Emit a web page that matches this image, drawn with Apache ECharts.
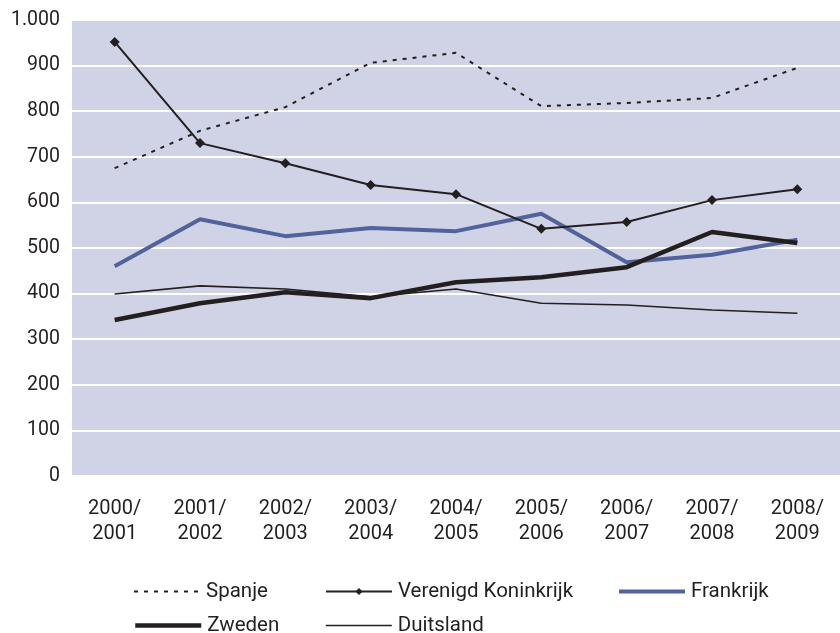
<!DOCTYPE html>
<html>
<head>
<meta charset="utf-8">
<script src="https://cdn.jsdelivr.net/npm/echarts@6/dist/echarts.min.js"></script>
<style>
  html, body { margin: 0; padding: 0; background: #ffffff; }
  #chart { width: 840px; height: 633px; }
</style>
</head>
<body>
<div id="chart"></div>
<script>
// School years on the category axis
const seasons = ['2000/\n2001', '2001/\n2002', '2002/\n2003', '2003/\n2004', '2004/\n2005',
                 '2005/\n2006', '2006/\n2007', '2007/\n2008', '2008/\n2009'];

// Values per country
const spanje = [675, 757, 809, 906, 928, 811, 818, 829, 895];
const verenigdKoninkrijk = [952, 730, 686, 638, 618, 542, 557, 605, 629];
const frankrijk = [460, 563, 526, 544, 537, 575, 469, 485, 518];
const zweden = [342, 379, 403, 390, 425, 436, 458, 535, 511];
const duitsland = [399, 417, 410, 393, 410, 379, 375, 364, 357];

const yTicks = { min: 0, max: 1000, interval: 100 };

const FONT = 'Roboto, "Liberation Sans", sans-serif';
const INK = '#231f20';
const BLUE = '#52629b';

const chart = echarts.init(document.getElementById('chart'), null, { renderer: 'canvas' });

// One legend block per entry so each can sit in its own column
function legendAt(name, left, top, lineWidth, withMarker) {
  return {
    data: [name],
    left: left,
    top: top,
    orient: 'horizontal',
    itemWidth: 66,
    itemHeight: 9,
    itemGap: 0,
    padding: 0,
    lineStyle: { width: lineWidth },
    itemStyle: withMarker ? { color: INK } : { color: 'rgba(0,0,0,0)', borderWidth: 0 },
    textStyle: { fontFamily: FONT, fontSize: 20.5, color: INK, padding: [0, 0, 0, 1] },
    selectedMode: false
  };
}

chart.setOption({
  animation: false,
  backgroundColor: '#ffffff',
  grid: {
    left: 72, right: 0, top: 20, bottom: 157,
    show: true, backgroundColor: '#d0d3e5', borderWidth: 0
  },
  legend: [
    legendAt('Spanje', 133, 581, 2, false),
    legendAt('Verenigd Koninkrijk', 325, 581, 2, true),
    legendAt('Frankrijk', 617, 581, 4, false),
    legendAt('Zweden', 133, 615, 4.5, false),
    legendAt('Duitsland', 325, 615, 1.6, false)
  ],
  xAxis: {
    type: 'category',
    data: seasons,
    boundaryGap: true,
    axisLine: { show: false },
    axisTick: { show: false },
    axisLabel: {
      margin: 20, fontFamily: FONT, fontSize: 20, color: INK, lineHeight: 25,
      interval: 0
    },
    splitLine: { show: false }
  },
  yAxis: {
    type: 'value',
    min: yTicks.min, max: yTicks.max, interval: yTicks.interval,
    axisLine: { show: false },
    axisTick: { show: false },
    axisLabel: {
      margin: 12, fontFamily: FONT, fontSize: 19.5, color: INK,
      formatter: v => v >= 1000 ? (v / 1000).toFixed(0) + '.' + String(v % 1000).padStart(3, '0') : String(v)
    },
    splitLine: { show: true, lineStyle: { color: '#ffffff', width: 2 } }
  },
  series: [
    {
      name: 'Spanje', type: 'line', data: spanje,
      symbol: 'none',
      lineStyle: { color: INK, width: 2, type: [4, 6] },
      itemStyle: { color: INK },
      z: 3
    },
    {
      name: 'Verenigd Koninkrijk', type: 'line', data: verenigdKoninkrijk,
      symbol: 'diamond', symbolSize: 10, showSymbol: true,
      lineStyle: { color: INK, width: 2 },
      itemStyle: { color: INK },
      z: 5
    },
    {
      name: 'Frankrijk', type: 'line', data: frankrijk,
      symbol: 'none',
      lineStyle: { color: BLUE, width: 4 },
      itemStyle: { color: BLUE },
      z: 2
    },
    {
      name: 'Zweden', type: 'line', data: zweden,
      symbol: 'none',
      lineStyle: { color: INK, width: 4.5 },
      itemStyle: { color: INK },
      z: 4
    },
    {
      name: 'Duitsland', type: 'line', data: duitsland,
      symbol: 'none',
      lineStyle: { color: INK, width: 1.6 },
      itemStyle: { color: INK },
      z: 1
    }
  ]
});
</script>
</body>
</html>
